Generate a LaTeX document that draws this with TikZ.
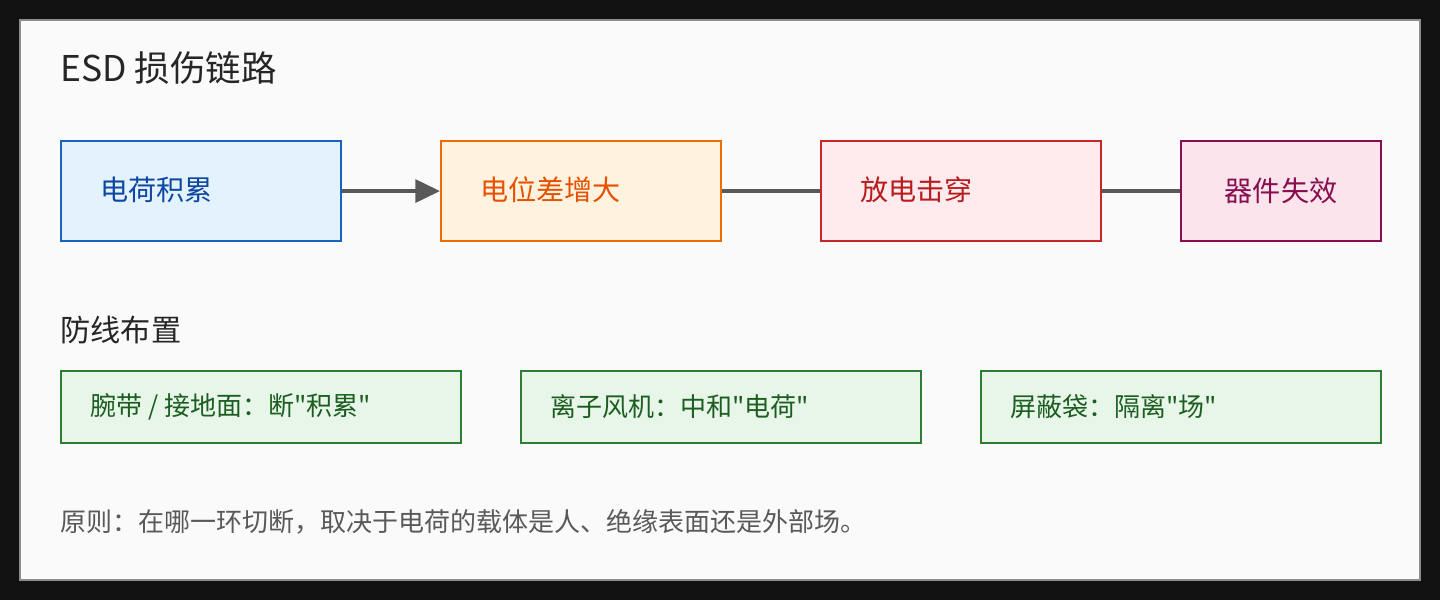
\documentclass[tikz,border=0pt]{standalone}
\usepackage{fontspec}
\setmainfont{Noto Sans CJK SC}
\newfontfamily\qfont{Noto Sans CJK SC}
\usetikzlibrary{arrows.meta}
\definecolor{bluefill}{HTML}{E3F2FD}\definecolor{blueline}{HTML}{1565C0}\definecolor{bluetext}{HTML}{0D47A1}
\definecolor{orfill}{HTML}{FFF3E0}\definecolor{orline}{HTML}{EF6C00}\definecolor{ortext}{HTML}{E65100}
\definecolor{redfill}{HTML}{FFEBEE}\definecolor{redline}{HTML}{C62828}\definecolor{redtext}{HTML}{B71C1C}
\definecolor{pkfill}{HTML}{FCE4EC}\definecolor{pkline}{HTML}{880E4F}
\definecolor{grfill}{HTML}{E8F5E9}\definecolor{grline}{HTML}{2E7D32}\definecolor{grtext}{HTML}{1B5E20}
\newcommand{\stepbox}{\node[draw,rectangle,line width=1.2pt,minimum height=2cm,anchor=north west,inner sep=0]}
\newcommand{\guardbox}{\node[draw,rectangle,line width=1.2pt,minimum width=8cm,minimum height=1.44cm,anchor=north west,fill=grfill,draw=grline,inner sep=0]}
\newcommand{\lbl}{\node[anchor=west,inner sep=0]}
\newcommand{\qq}{{\qfont"}}

\begin{document}
\begin{tikzpicture}[x=0.02cm,y=-0.02cm]
%panel
\fill[black!93] (0,0) rectangle (1440,600);
\draw[fill=black!2,draw=black!45,line width=1pt] (20,20) rectangle (1420,580);
\lbl[text=black!85,font=\fontsize{20.2}{22}\selectfont] (title) at (60,68) {ESD 损伤链路};

%damage chain
\stepbox[minimum width=5.6cm,fill=bluefill,draw=blueline] (s1) at (60,140) {};
\stepbox[minimum width=5.6cm,fill=orfill,draw=orline] (s2) at (440,140) {};
\stepbox[minimum width=5.6cm,fill=redfill,draw=redline] (s3) at (820,140) {};
\stepbox[minimum width=4cm,fill=pkfill,draw=pkline] (s4) at (1180,140) {};
\lbl[text=bluetext,font=\fontsize{16}{18}\selectfont] (t1) at (100,190) {电荷积累};
\lbl[text=ortext,font=\fontsize{16}{18}\selectfont] (t2) at (480,190) {电位差增大};
\lbl[text=redtext,font=\fontsize{16}{18}\selectfont] (t3) at (860,190) {放电击穿};
\node[text=pkline,font=\fontsize{16}{18}\selectfont] (t4) at (s4.center) {器件失效};

\draw[-{Triangle[length=14pt,width=13pt]},black!65,line width=2pt] (s1.east) -- (s2.west);
\draw[black!65,line width=2pt] (s2.east) -- (s3.west);
\draw[black!65,line width=2pt] (s3.east) -- (s4.west);

%defences
\lbl[text=black!85,font=\fontsize{17.2}{19}\selectfont] (head) at (60,330) {防线布置};
\guardbox (g1) at (60,370) {};
\guardbox (g2) at (520,370) {};
\guardbox (g3) at (980,370) {};
\lbl[text=grtext,font=\fontsize{14.8}{16}\selectfont] (u1) at (90,407) {腕带 / 接地面：断\qq 积累\qq};
\lbl[text=grtext,font=\fontsize{14.8}{16}\selectfont] (u2) at (550,407) {离子风机：中和\qq 电荷\qq};
\lbl[text=grtext,font=\fontsize{14.8}{16}\selectfont] (u3) at (1010,407) {屏蔽袋：隔离\qq 场\qq};

\lbl[text=black!65,font=\fontsize{14.8}{16}\selectfont] (rule) at (60,522) {原则：在哪一环切断，取决于电荷的载体是人、绝缘表面还是外部场。};
\end{tikzpicture}
\end{document}
